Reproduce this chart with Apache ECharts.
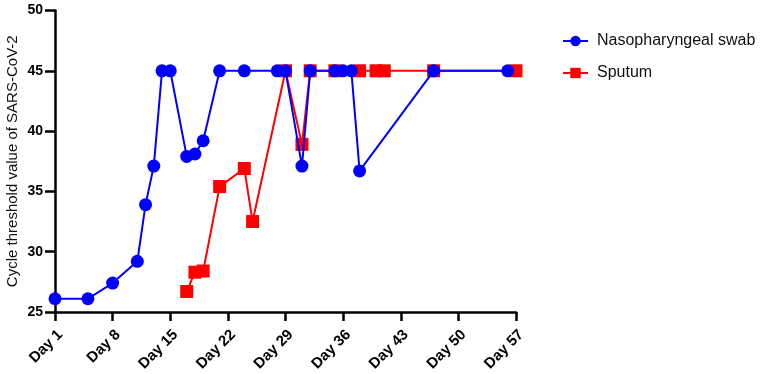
<!DOCTYPE html>
<html>
<head>
<meta charset="utf-8">
<script src="https://cdn.jsdelivr.net/npm/echarts@6/dist/echarts.min.js"></script>
<style>
  html, body { margin: 0; padding: 0; background: #fff; }
</style>
</head>
<body>
<div id="chart" style="width: 765px; height: 374px;"></div>
<script>
  // days and Ct values
  var swabDays = [1, 5, 8, 11, 12, 13, 14, 15, 17, 18, 19, 21, 24, 28, 29, 31, 32, 35, 36, 37, 38, 47, 56];
  var swabCt = [26.1, 26.1, 27.4, 29.2, 33.9, 37.1, 45, 45, 37.9, 38.1, 39.2, 45, 45, 45, 45, 37.1, 45, 45, 45, 45, 36.7, 45, 45];
  var sputumDays = [17, 18, 19, 21, 24, 25, 29, 31, 32, 35, 38, 40, 41, 47, 57];
  var sputumCt = [26.7, 28.3, 28.4, 35.4, 36.9, 32.5, 45, 38.9, 45, 45, 45, 45, 45, 45, 45];
  var dayLabels = ['Day 1', 'Day 8', 'Day 15', 'Day 22', 'Day 29', 'Day 36', 'Day 43', 'Day 50', 'Day 57'];

  // x axis runs on (day - 1) so ticks land on 0, 7, 14 ...
  function pairs(days, vals) {
    return days.map(function (d, i) { return [d - 1, vals[i]]; });
  }

  var myChart = echarts.init(document.getElementById('chart'));
  var fontFam = '"Liberation Sans", Arial, sans-serif';

  myChart.setOption({
    animation: false,
    grid: { left: 55, right: 249, top: 10.5, bottom: 62, outerBoundsMode: 'none', containLabel: false },
    legend: {
      left: 557,
      top: 28,
      orient: 'vertical',
      itemWidth: 25,
      itemHeight: 13,
      itemGap: 16,
      data: ['Nasopharyngeal swab', 'Sputum'],
      textStyle: { fontFamily: fontFam, fontSize: 16, color: '#111', padding: [0, 0, 0, 4] }
    },
    xAxis: {
      type: 'value',
      min: 0,
      max: 56,
      interval: 7,
      splitLine: { show: false },
      axisLine: { lineStyle: { color: '#000', width: 2.5 } },
      axisTick: { length: 9, lineStyle: { color: '#000', width: 2.5 } },
      axisLabel: {
        rotate: 45,
        margin: 15,
        verticalAlign: 'top',
        color: '#000',
        fontWeight: 'bold',
        fontSize: 15,
        fontFamily: fontFam,
        formatter: function (v) { return dayLabels[Math.round(v / 7)]; }
      }
    },
    yAxis: {
      type: 'value',
      min: 25,
      max: 50,
      interval: 5,
      name: 'Cycle threshold value of SARS-CoV-2',
      nameLocation: 'middle',
      nameGap: 35,
      nameMoveOverlap: false,
      nameTextStyle: { fontFamily: fontFam, fontSize: 15, color: '#111' },
      splitLine: { show: false },
      axisLine: { show: true, lineStyle: { color: '#000', width: 2.5 } },
      axisTick: { show: true, length: 10, lineStyle: { color: '#000', width: 2.5 } },
      axisLabel: {
        margin: 12,
        color: '#000',
        fontWeight: 'bold',
        fontSize: 14,
        fontFamily: fontFam
      }
    },
    series: [
      {
        name: 'Nasopharyngeal swab',
        type: 'line',
        z: 4,
        symbol: 'circle',
        symbolSize: 13,
        color: '#0000ff',
        lineStyle: { width: 2, color: '#0000ff' },
        itemStyle: { color: '#0000ff' },
        data: pairs(swabDays, swabCt)
      },
      {
        name: 'Sputum',
        type: 'line',
        z: 2,
        symbol: 'rect',
        symbolSize: 13,
        color: '#ff0000',
        lineStyle: { width: 2, color: '#ff0000' },
        itemStyle: { color: '#ff0000' },
        data: pairs(sputumDays, sputumCt)
      }
    ]
  });
</script>
</body>
</html>
